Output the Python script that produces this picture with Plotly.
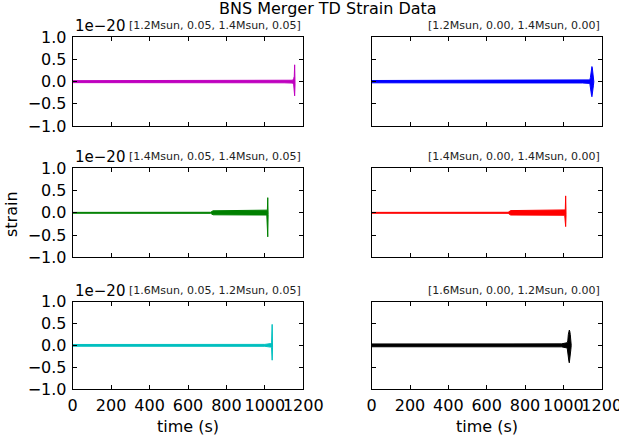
import plotly.graph_objects as go

# Strain scale used by the y axes (values below are in units of this)
SCALE = 1e-20

panel_titles = [
    "[1.2Msun, 0.05, 1.4Msun, 0.05]", "[1.2Msun, 0.00, 1.4Msun, 0.00]",
    "[1.4Msun, 0.05, 1.4Msun, 0.05]", "[1.4Msun, 0.00, 1.4Msun, 0.00]",
    "[1.6Msun, 0.05, 1.2Msun, 0.05]", "[1.6Msun, 0.00, 1.2Msun, 0.00]",
]
colors = ["#bf00bf", "#0000ff", "#008000", "#ff0000", "#00bfbf", "#000000"]

# Envelope of each strain signal: time (s), upper and lower bounds (x 1e-20)
t_12_14_s = [0, 1100, 1145, 1150, 1153, 1155, 1157, 1158]
up_12_14_s = [0.022, 0.026, 0.032, 0.07, 0.12, 0.38, 0.05, 0.0]
lo_12_14_s = [-0.022, -0.026, -0.032, -0.07, -0.12, -0.32, -0.05, 0.0]

t_12_14_0 = [0, 1100, 1138, 1141, 1144, 1147, 1149, 1151, 1154, 1157, 1159]
up_12_14_0 = [0.026, 0.03, 0.04, 0.09, 0.22, 0.31, 0.34, 0.31, 0.22, 0.08, 0.0]
lo_12_14_0 = [-0.026, -0.03, -0.04, -0.09, -0.22, -0.31, -0.34, -0.31, -0.22, -0.08, 0.0]

t_14_14_s = [0, 718, 730, 1010, 1013, 1015, 1017, 1018]
up_14_14_s = [0.01, 0.012, 0.045, 0.05, 0.06, 0.34, 0.04, 0.0]
lo_14_14_s = [-0.01, -0.012, -0.045, -0.05, -0.06, -0.54, -0.04, 0.0]

t_14_14_0 = [0, 712, 725, 1007, 1010, 1012, 1014, 1015]
up_14_14_0 = [0.01, 0.012, 0.05, 0.055, 0.065, 0.38, 0.04, 0.0]
lo_14_14_0 = [-0.01, -0.012, -0.05, -0.055, -0.065, -0.31, -0.04, 0.0]

t_16_12_s = [0, 1000, 1030, 1035, 1038, 1040, 1041]
up_16_12_s = [0.02, 0.022, 0.04, 0.06, 0.48, 0.04, 0.0]
lo_16_12_s = [-0.02, -0.022, -0.04, -0.06, -0.34, -0.04, 0.0]

t_16_12_0 = [0, 990, 1020, 1023, 1026, 1029, 1031, 1033, 1036, 1039, 1041]
up_16_12_0 = [0.032, 0.034, 0.06, 0.1, 0.25, 0.33, 0.35, 0.33, 0.25, 0.1, 0.0]
lo_16_12_0 = [-0.032, -0.034, -0.06, -0.1, -0.28, -0.37, -0.40, -0.37, -0.28, -0.1, 0.0]

signals = [
    (t_12_14_s, up_12_14_s, lo_12_14_s),
    (t_12_14_0, up_12_14_0, lo_12_14_0),
    (t_14_14_s, up_14_14_s, lo_14_14_s),
    (t_14_14_0, up_14_14_0, lo_14_14_0),
    (t_16_12_s, up_16_12_s, lo_16_12_s),
    (t_16_12_0, up_16_12_0, lo_16_12_0),
]

x_ticks = [0, 200, 400, 600, 800, 1000, 1200]
y_ticks = [-1.0, -0.5, 0.0, 0.5, 1.0]
y_tick_text = ["\u22121.0", "\u22120.5", "0.0", "0.5", "1.0"]

W, H = 619, 440
col_px = [(72.7, 303.3), (371.7, 601.7)]
row_px = [(37.3, 126.0), (168.3, 257.3), (301.7, 389.0)]

FONT = "DejaVu Sans"
TICK_SIZE = 16
fig = go.Figure()
layout = dict(
    width=W, height=H,
    margin=dict(l=0, r=0, t=0, b=0),
    paper_bgcolor="white", plot_bgcolor="white",
    showlegend=False,
    font=dict(family=FONT, size=TICK_SIZE, color="black"),
)
annotations = []

for i, (t, up, lo) in enumerate(signals):
    r, c = divmod(i, 2)
    n = i + 1
    xa = "x" if n == 1 else f"x{n}"
    ya = "y" if n == 1 else f"y{n}"
    xs = list(t) + list(t)[::-1]
    ys = [v * SCALE for v in up] + [v * SCALE for v in lo][::-1]
    fig.add_trace(go.Scatter(
        x=xs, y=ys, mode="lines", fill="toself", fillcolor=colors[i],
        line=dict(color=colors[i], width=1), xaxis=xa, yaxis=ya,
        hoverinfo="skip",
    ))
    x0, x1 = col_px[c]
    y0, y1 = row_px[r]
    common = dict(
        showline=True, linecolor="black", linewidth=1, mirror="allticks",
        ticks="inside", ticklen=4, tickwidth=1, tickcolor="black",
        showgrid=False, zeroline=False, fixedrange=True, automargin=False,
        ticklabeloverflow="allow",
        tickfont=dict(family=FONT, size=TICK_SIZE, color="black"),
    )
    layout["xaxis" if n == 1 else f"xaxis{n}"] = dict(
        common, domain=[x0 / W, x1 / W], range=[0, 1200],
        tickvals=x_ticks, ticktext=[str(v) for v in x_ticks],
        showticklabels=(r == 2), tickangle=0, anchor=ya,
        ticklabelstandoff=2,
    )
    layout["yaxis" if n == 1 else f"yaxis{n}"] = dict(
        common, domain=[1 - y1 / H, 1 - y0 / H], range=[-SCALE, SCALE],
        tickvals=[v * SCALE for v in y_ticks], ticktext=y_tick_text,
        showticklabels=(c == 0), anchor=xa, ticklabelstandoff=2,
    )
    annotations.append(dict(
        text=panel_titles[i], xref=f"{xa} domain", yref=f"{ya} domain",
        x=1, y=1, xanchor="right", yanchor="bottom", yshift=3,
        showarrow=False, font=dict(family=FONT, size=11, color="#222"),
    ))
    if c == 0:
        annotations.append(dict(
            text="1e\u221220", xref=f"{xa} domain", yref=f"{ya} domain",
            x=0, y=1, xanchor="left", yanchor="bottom", yshift=0, xshift=0,
            showarrow=False, font=dict(family=FONT, size=15, color="black"),
        ))
    if r == 2:
        annotations.append(dict(
            text="time (s)", xref=f"{xa} domain", yref="paper",
            x=0.5, y=1 - 426 / H, xanchor="center", yanchor="middle",
            showarrow=False, font=dict(family=FONT, size=TICK_SIZE, color="black"),
        ))

annotations.append(dict(
    text="BNS Merger TD Strain Data", xref="paper", yref="paper",
    x=328 / W, y=1, xanchor="center", yanchor="top", yshift=3,
    showarrow=False, font=dict(family=FONT, size=16, color="black"),
))
annotations.append(dict(
    text="strain", xref="paper", yref="paper",
    x=11 / W, y=1 - 214 / H, xanchor="center", yanchor="middle", textangle=-90,
    showarrow=False, font=dict(family=FONT, size=TICK_SIZE, color="black"),
))
layout["annotations"] = annotations
fig.update_layout(**layout)
fig.write_html("out.html")
